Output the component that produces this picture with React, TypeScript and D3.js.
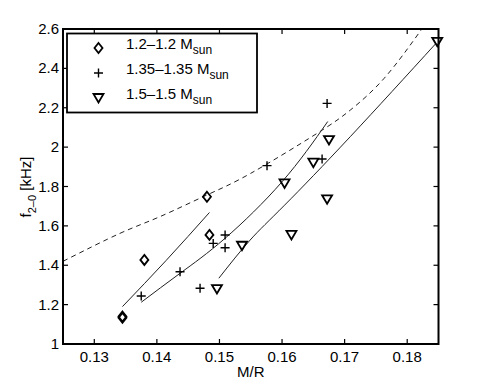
import React, { useEffect, useRef } from 'react';
import * as d3 from 'd3';

// M/R, f_{2-0} [kHz]
const diamondMR = [0.1345, 0.1345, 0.138, 0.148, 0.1484];
const diamondF = [1.14, 1.133, 1.427, 1.748, 1.554];

const plusMR = [0.1375, 0.1437, 0.1469, 0.149, 0.1509, 0.1509, 0.1576, 0.1664, 0.1672];
const plusF = [1.244, 1.367, 1.283, 1.511, 1.554, 1.489, 1.906, 1.94, 2.222];

const triMR = [0.1496, 0.1536, 0.1615, 0.1604, 0.1672, 0.165, 0.1675, 0.1848];
const triF = [1.279, 1.499, 1.554, 1.816, 1.735, 1.921, 2.036, 2.535];

// fitted curves
const fit12MR = [0.1345, 0.1415, 0.1484];
const fit12F = [1.19, 1.425, 1.668];

const fit135MR = [0.1375, 0.1437, 0.1509, 0.16, 0.1673];
const fit135F = [1.212, 1.359, 1.537, 1.824, 2.13];

const fit15MR = [0.1499, 0.1549, 0.1604, 0.1709, 0.1846];
const fit15F = [1.334, 1.528, 1.705, 2.053, 2.527];

const dashMR = [0.125, 0.1341, 0.1405, 0.148, 0.155, 0.1656, 0.1709, 0.1763, 0.1824];
const dashF = [1.42, 1.562, 1.647, 1.757, 1.867, 2.07, 2.188, 2.349, 2.603];

const mrTicks = [0.13, 0.14, 0.15, 0.16, 0.17, 0.18];
const fTicks = [1, 1.2, 1.4, 1.6, 1.8, 2, 2.2, 2.4, 2.6];

const legendLabels = ['1.2\u20131.2 M', '1.35\u20131.35 M', '1.5\u20131.5 M'];
const legendSub = 'sun';

const FONT = '"Liberation Sans", Arial, Helvetica, sans-serif';

const App = () => {
	const chartRef = useRef<SVGSVGElement>(null);

	useEffect(() => {
		const margin = { top: 29, right: 46.5, bottom: 44, left: 63 };
		const W = 485, H = 388;
		const width = W - margin.left - margin.right;
		const height = H - margin.top - margin.bottom;

		const root = d3.select(chartRef.current);
		root.selectAll('*').remove();

		const svg = root.append('g').attr('transform', `translate(${margin.left},${margin.top})`);

		const x = d3.scaleLinear().domain([0.125, 0.185]).range([0, width]);
		const y = d3.scaleLinear().domain([1, 2.6]).range([height, 0]);

		svg.append('clipPath').attr('id', 'plotclip')
			.append('rect').attr('width', width).attr('height', height);

		const line = d3.line<[number, number]>()
			.x(d => x(d[0]))
			.y(d => y(d[1]))
			.curve(d3.curveNatural);

		const zip = (a: number[], b: number[]) => a.map((v, i) => [v, b[i]] as [number, number]);

		const plot = svg.append('g').attr('clip-path', 'url(#plotclip)');

		plot.append('path')
			.datum(zip(dashMR, dashF))
			.attr('fill', 'none')
			.attr('stroke', '#222')
			.attr('stroke-width', 1)
			.attr('stroke-dasharray', '5,4')
			.attr('d', line);

		[[fit12MR, fit12F], [fit135MR, fit135F], [fit15MR, fit15F]].forEach(([a, b]) => {
			plot.append('path')
				.datum(zip(a, b))
				.attr('fill', 'none')
				.attr('stroke', '#222')
				.attr('stroke-width', 1)
				.attr('d', line);
		});

		const diamondPath = 'M0,-5L4,0L0,5L-4,0Z';
		const plusPath = 'M-4.5,0H4.5M0,-4.5V4.5';
		const triPath = 'M-5,-4L5,-4L0,4.5Z';

		const drawMarkers = (mr: number[], f: number[], p: string, sw: number) => {
			svg.append('g').selectAll('path')
				.data(zip(mr, f))
				.enter()
				.append('path')
				.attr('transform', d => `translate(${x(d[0])},${y(d[1])})`)
				.attr('d', p)
				.attr('fill', 'none')
				.attr('stroke', '#000')
				.attr('stroke-width', sw);
		};
		drawMarkers(diamondMR, diamondF, diamondPath, 1.8);
		drawMarkers(plusMR, plusF, plusPath, 1.4);
		drawMarkers(triMR, triF, triPath, 1.8);

		// axes box with inward ticks on all sides
		const tl = 5;
		const ticks = svg.append('g').attr('stroke', '#000').attr('stroke-width', 1.2);
		mrTicks.forEach(t => {
			ticks.append('line').attr('x1', x(t)).attr('x2', x(t)).attr('y1', height).attr('y2', height - tl);
			ticks.append('line').attr('x1', x(t)).attr('x2', x(t)).attr('y1', 0).attr('y2', tl);
		});
		fTicks.forEach(t => {
			ticks.append('line').attr('y1', y(t)).attr('y2', y(t)).attr('x1', 0).attr('x2', tl);
			ticks.append('line').attr('y1', y(t)).attr('y2', y(t)).attr('x1', width).attr('x2', width - tl);
		});
		svg.append('rect')
			.attr('width', width).attr('height', height)
			.attr('fill', 'none').attr('stroke', '#000').attr('stroke-width', 2);

		svg.append('g').selectAll('text')
			.data(mrTicks).enter().append('text')
			.attr('x', d => x(d)).attr('y', height + 18)
			.attr('text-anchor', 'middle')
			.style('font-family', FONT).style('font-size', '15px')
			.text(d => String(d));

		svg.append('g').selectAll('text')
			.data(fTicks).enter().append('text')
			.attr('x', -4).attr('y', d => y(d) + 5)
			.attr('text-anchor', 'end')
			.style('font-family', FONT).style('font-size', '15px')
			.text(d => String(+d.toFixed(1)));

		svg.append('text')
			.attr('x', width / 2).attr('y', height + 33)
			.attr('text-anchor', 'middle')
			.style('font-family', FONT).style('font-size', '15px')
			.text('M/R');

		const ylab = root.append('text')
			.attr('transform', 'translate(31,187) rotate(-90)')
			.attr('text-anchor', 'middle')
			.style('font-family', FONT).style('font-size', '15px');
		ylab.append('tspan').text('f');
		ylab.append('tspan').attr('dy', 5).style('font-size', '11px').text('2\u20130');
		ylab.append('tspan').attr('dy', -5).text(' [kHz]');

		// legend
		const legend = root.append('g');
		legend.append('rect')
			.attr('x', 67).attr('y', 33.5).attr('width', 190).attr('height', 79)
			.attr('fill', '#fff').attr('stroke', '#000').attr('stroke-width', 1.8);

		const legendPaths = [diamondPath, plusPath, triPath];
		const legendWidths = [1.8, 1.4, 1.8];
		legendLabels.forEach((lab, i) => {
			const by = 49 + i * 25;
			legend.append('path')
				.attr('transform', `translate(98.5,${by - 1})`)
				.attr('d', legendPaths[i])
				.attr('fill', 'none').attr('stroke', '#000').attr('stroke-width', legendWidths[i]);
			const t = legend.append('text')
				.attr('x', 126).attr('y', by)
				.style('font-family', FONT).style('font-size', '15px');
			t.append('tspan').text(lab);
			t.append('tspan').attr('dy', 5).style('font-size', '12px').text(legendSub);
		});
	}, []);

	return (
		<svg
			ref={chartRef}
			width={485}
			height={388}
			style={{ position: 'absolute', left: 0, top: 0, background: '#fff' }}
		/>
	);
};

export default App;
